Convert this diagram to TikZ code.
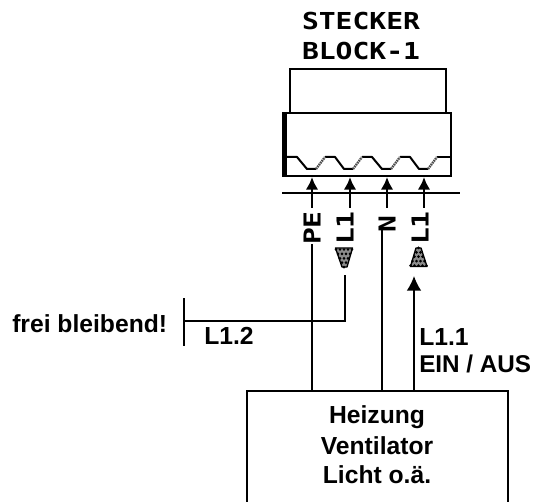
\documentclass[tikz,border=0pt]{standalone}
\usepackage{fontspec}
\setmainfont{Liberation Sans}
\newfontfamily\pixfont[FakeStretch=1.2]{DejaVu Sans Mono}
\usetikzlibrary{arrows.meta}
\tikzset{
 px/.style={x=0.75pt,y=-0.75pt},
 wire/.style={draw=black,line width=1.15pt},
 stem/.style={draw=black,line width=1.9pt},
 boxline/.style={draw=black,line width=2.2pt},
 zig/.style={draw=black,line width=1.5pt,line join=round},
 zigup/.style={draw=black!70,line width=1.8pt,dash pattern=on 1.2pt off .6pt},
 lbl/.style={font=\bfseries\fontsize{18.5}{23}\selectfont,align=center,inner sep=0pt,anchor=base},
 pix/.style={font=\pixfont\bfseries\fontsize{17.5}{22}\selectfont,align=center,inner sep=0pt},
 pin/.style={font=\pixfont\bfseries\fontsize{17.5}{17.5}\selectfont,inner sep=0pt,rotate=90},
 tip/.style={-{Latex[length=9.5pt,width=9.5pt]}},
 plug/.style={fill=black!45,draw=black,line width=1pt,line join=round},
}
\begin{document}
\begin{tikzpicture}[px]
\useasboundingbox (0,0) rectangle (535,502);
\node[pix] (title) at (361,36) {STECKER\\BLOCK-1};
\draw[boxline] (290,113) |- (446,69) -- (446,113);
\draw[boxline] (284,113) rectangle (451,176);
\draw[line width=3.75pt] (284.5,112) -- (284.5,177);
\draw[zig] (285,157) -- (297,157) -- (307,169) -- (316,169);
\draw[zig] (325,157) -- (335,157) -- (344,169) -- (353,169);
\draw[zig] (362,157) -- (372,157) -- (382,169) -- (391,169);
\draw[zig] (400,157) -- (410,157) -- (419,169) -- (428,169);
\draw[zig] (437,157) -- (451,157);
\foreach \p in {316,353,391,428} \draw[zigup] (\p,169) -- ++(9,-12);
\draw[wire] (282,193) -- (460,193);
\coordinate (a1) at (312,177); \coordinate (a2) at (350,177); \coordinate (a3) at (387,177); \coordinate (a4) at (424,177);
\coordinate (b1) at (312,208); \coordinate (b2) at (350,208); \coordinate (b3) at (387,208); \coordinate (b4) at (424,208);
\foreach \i in {1,2,3,4} \draw[stem,tip] (b\i) -- (a\i);
\node[pin] (pe) at (312,228) {PE};
\node[pin] (l1a) at (345,228) {L1};
\node[pin] (n) at (387,224) {N};
\node[pin] (l1b) at (420,228) {L1};
\path[plug] (335.5,248) -- (352.5,248) -- (347,267) -- (342,267) -- cycle;
\path[plug] (416,248) -- (421,248) -- (427,266.5) -- (410.5,266.5) -- cycle;
\foreach \r in {0,...,4}{
  \pgfmathtruncatemacro{\n}{5-\r}
  \foreach \k in {1,...,\n}{
    \fill (344+4*\k-12+2*\r,249.5+4.4*\r) circle[radius=1.1pt];
    \fill (418.5+4*\k-12+2*\r,265.5-4.4*\r) circle[radius=1.1pt];
  }
}
\draw[wire] (312,244) -- (312,391);
\draw[wire] (382,230) -- (382,391);
\draw[wire,-{Latex[length=11pt,width=11pt]}] (414,391) -- (414,276);
\draw[wire] (247,503) |- (508,391) -- (508,503);
\node[lbl] (boxa) at (377,423) {Heizung};
\node[lbl] (boxb) at (377,454) {Ventilator};
\node[lbl] (boxc) at (377,483) {Licht o.ä.};
\coordinate (tr) at (345,275); \coordinate (co) at (345,321); \coordinate (l) at (184,321);
\draw[wire] (tr) -- (co) -- (l);
\draw[wire] (184,298) -- (184,346);
\node[lbl,anchor=base west] (frei) at (12,332) {frei bleibend!};
\node[lbl,anchor=base west] (l12) at (204,344) {L1.2};
\node[lbl,anchor=base west] (l11) at (419,345) {L1.1};
\node[lbl,anchor=base west,font=\bfseries\fontsize{18.2}{23}\selectfont] (ein) at (419,372) {EIN / AUS};
\end{tikzpicture}
\end{document}
